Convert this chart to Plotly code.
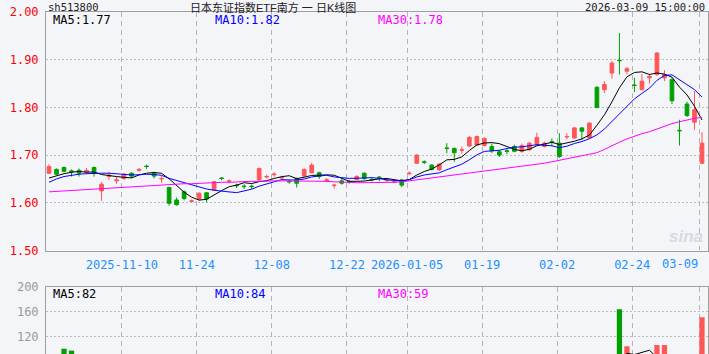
import plotly.graph_objects as go
import pandas as pd

dates = [
    "2025-10-27", "2025-10-28", "2025-10-29", "2025-10-30", "2025-10-31",
    "2025-11-03", "2025-11-04", "2025-11-05", "2025-11-06", "2025-11-07",
    "2025-11-10", "2025-11-11", "2025-11-12", "2025-11-13", "2025-11-14",
    "2025-11-17", "2025-11-18", "2025-11-19", "2025-11-20", "2025-11-21",
    "2025-11-24", "2025-11-25", "2025-11-26", "2025-11-27", "2025-11-28",
    "2025-12-01", "2025-12-02", "2025-12-03", "2025-12-04", "2025-12-05",
    "2025-12-08", "2025-12-09", "2025-12-10", "2025-12-11", "2025-12-12",
    "2025-12-15", "2025-12-16", "2025-12-17", "2025-12-18", "2025-12-19",
    "2025-12-22", "2025-12-23", "2025-12-24", "2025-12-25", "2025-12-26",
    "2025-12-29", "2025-12-30", "2025-12-31",
    "2026-01-05", "2026-01-06", "2026-01-07", "2026-01-08", "2026-01-09",
    "2026-01-12", "2026-01-13", "2026-01-14", "2026-01-15", "2026-01-16",
    "2026-01-19", "2026-01-20", "2026-01-21", "2026-01-22", "2026-01-23",
    "2026-01-26", "2026-01-27", "2026-01-28", "2026-01-29", "2026-01-30",
    "2026-02-02", "2026-02-03", "2026-02-04", "2026-02-05", "2026-02-06",
    "2026-02-09", "2026-02-10", "2026-02-11", "2026-02-12", "2026-02-13",
    "2026-02-24", "2026-02-25", "2026-02-26", "2026-02-27",
    "2026-03-02", "2026-03-03", "2026-03-04", "2026-03-05", "2026-03-06",
    "2026-03-09",
]

opens = [
    1.662, 1.670, 1.674, 1.667, 1.668, 1.664, 1.674, 1.625, 1.655, 1.646,
    1.651, 1.662, 1.668, 1.677, 1.663, 1.650, 1.632, 1.606, 1.623, 1.603,
    1.608, 1.621, 1.627, 1.652, 1.645, 1.637, 1.635, 1.635, 1.648, 1.654,
    1.659, 1.652, 1.645, 1.651, 1.656, 1.663, 1.663, 1.647, 1.636, 1.646,
    1.645, 1.649, 1.662, 1.649, 1.654, 1.647, 1.643, 1.648,
    1.661, 1.683, 1.686, 1.679, 1.669, 1.715, 1.714, 1.710, 1.719, 1.721,
    1.720, 1.718, 1.707, 1.709, 1.718, 1.708, 1.711, 1.722, 1.718, 1.728,
    1.725, 1.738, 1.736, 1.757, 1.736, 1.842, 1.837, 1.872, 1.899, 1.876,
    1.847, 1.837, 1.862, 1.869, 1.862, 1.858, 1.752, 1.807, 1.769, 1.683,
]
highs = [
    1.681, 1.672, 1.676, 1.670, 1.672, 1.673, 1.676, 1.643, 1.665, 1.655,
    1.662, 1.664, 1.673, 1.680, 1.665, 1.656, 1.634, 1.611, 1.626, 1.607,
    1.622, 1.622, 1.646, 1.654, 1.649, 1.640, 1.639, 1.638, 1.674, 1.659,
    1.664, 1.657, 1.648, 1.653, 1.672, 1.684, 1.665, 1.652, 1.640, 1.650,
    1.648, 1.658, 1.664, 1.652, 1.656, 1.651, 1.647, 1.650,
    1.666, 1.702, 1.689, 1.681, 1.683, 1.725, 1.716, 1.718, 1.740, 1.741,
    1.737, 1.724, 1.711, 1.713, 1.722, 1.724, 1.727, 1.747, 1.728, 1.735,
    1.746, 1.746, 1.759, 1.759, 1.769, 1.845, 1.855, 1.897, 1.956, 1.885,
    1.862, 1.870, 1.870, 1.916, 1.878, 1.862, 1.774, 1.812, 1.834, 1.748,
]
lows = [
    1.660, 1.658, 1.664, 1.655, 1.655, 1.660, 1.655, 1.604, 1.648, 1.640,
    1.648, 1.652, 1.665, 1.671, 1.651, 1.642, 1.594, 1.594, 1.605, 1.601,
    1.605, 1.601, 1.625, 1.647, 1.641, 1.631, 1.629, 1.629, 1.647, 1.651,
    1.655, 1.648, 1.640, 1.632, 1.655, 1.662, 1.650, 1.643, 1.630, 1.638,
    1.640, 1.647, 1.648, 1.645, 1.645, 1.644, 1.641, 1.633,
    1.658, 1.681, 1.681, 1.668, 1.667, 1.704, 1.686, 1.703, 1.717, 1.719,
    1.718, 1.704, 1.696, 1.702, 1.706, 1.705, 1.709, 1.720, 1.716, 1.719,
    1.694, 1.733, 1.734, 1.732, 1.734, 1.798, 1.830, 1.860, 1.869, 1.869,
    1.832, 1.836, 1.850, 1.866, 1.855, 1.807, 1.720, 1.780, 1.753, 1.681,
]
closes = [
    1.676, 1.660, 1.666, 1.665, 1.662, 1.668, 1.662, 1.639, 1.658, 1.648,
    1.660, 1.656, 1.670, 1.676, 1.656, 1.651, 1.599, 1.596, 1.609, 1.604,
    1.620, 1.608, 1.644, 1.651, 1.646, 1.636, 1.634, 1.634, 1.672, 1.655,
    1.660, 1.653, 1.644, 1.641, 1.670, 1.679, 1.655, 1.648, 1.637, 1.641,
    1.644, 1.655, 1.651, 1.648, 1.653, 1.648, 1.644, 1.637,
    1.662, 1.700, 1.685, 1.670, 1.681, 1.714, 1.705, 1.711, 1.737, 1.739,
    1.735, 1.709, 1.700, 1.708, 1.708, 1.720, 1.725, 1.737, 1.725, 1.727,
    1.697, 1.739, 1.757, 1.750, 1.767, 1.800, 1.848, 1.893, 1.898, 1.881,
    1.846, 1.855, 1.865, 1.914, 1.869, 1.814, 1.751, 1.783, 1.795, 1.725,
]
volumes = [
    65, 78, 100, 97, 70, 55, 60, 85, 50, 45,
    48, 40, 42, 45, 50, 38, 88, 70, 62, 45,
    52, 55, 58, 40, 35, 38, 36, 34, 60, 40,
    35, 33, 36, 42, 48, 55, 45, 38, 40, 35,
    32, 30, 36, 28, 30, 32, 30, 38,
    40, 70, 45, 42, 38, 62, 55, 40, 50, 45,
    38, 38, 35, 30, 28, 30, 28, 35, 25, 30,
    55, 30, 38, 27, 40, 85, 50, 60, 164, 104,
    75, 70, 75, 106, 106, 80, 65, 55, 60, 151,
]
ma5_head = [1.652, 1.657, 1.661, 1.664]
ma10_head = [1.643, 1.650, 1.655, 1.658, 1.660, 1.661, 1.662, 1.662, 1.662]
ma30 = [
    1.623, 1.624, 1.625, 1.626, 1.627, 1.628, 1.629, 1.630, 1.631, 1.632,
    1.633, 1.634, 1.635, 1.636, 1.637, 1.638, 1.639, 1.639, 1.640, 1.640,
    1.641, 1.642, 1.642, 1.643, 1.643, 1.644, 1.644, 1.645, 1.645, 1.646,
    1.646, 1.646, 1.646, 1.646, 1.646, 1.645, 1.645, 1.645, 1.644, 1.644,
    1.643, 1.642, 1.642, 1.642, 1.642, 1.642, 1.643, 1.644,
    1.646, 1.648, 1.650, 1.652, 1.654, 1.656, 1.658, 1.660, 1.662, 1.664,
    1.666, 1.668, 1.670, 1.672, 1.674, 1.676, 1.678, 1.680, 1.683, 1.686,
    1.689, 1.692, 1.695, 1.698, 1.701, 1.705, 1.712, 1.720, 1.727, 1.734,
    1.740, 1.745, 1.749, 1.755, 1.761, 1.766, 1.770, 1.774, 1.777, 1.779,
]

tick_dates = ["2025-11-10", "2025-11-24", "2025-12-08", "2025-12-22", "2026-01-05",
              "2026-01-19", "2026-02-02", "2026-02-24", "2026-03-09"]
tick_labels = ["2025-11-10", "11-24", "12-08", "12-22", "2026-01-05",
               "01-19", "02-02", "02-24", "03-09"]
price_ticks = [1.50, 1.60, 1.70, 1.80, 1.90, 2.00]
vol_ticks = [120, 160, 200]
price_ma_labels = ["MA5:1.77", "MA10:1.82", "MA30:1.78"]
vol_ma_labels = ["MA5:82", "MA10:84", "MA30:59"]
code_text = "sh513800"
title_text = "日本东证指数ETF南方 一 日K线图"
time_text = "2026-03-09 15:00:00"

RED = "#ff5656"
GREEN = "#00a000"
MA_COLORS = ["#000000", "#0000ff", "#ff00ff"]
BG = "#f4f5f9"
MONO = "DejaVu Sans Mono"

W, H = 709, 354
L, R = 46, 1
PW = W - L - R

n = len(dates)
xs = list(range(n))
cs = pd.Series(closes)
ma5 = cs.rolling(5).mean().tolist()
ma5[:len(ma5_head)] = ma5_head
ma10 = cs.rolling(10).mean().tolist()
ma10[:len(ma10_head)] = ma10_head
vs = pd.Series(volumes, dtype=float)
vma5 = vs.rolling(5).mean().tolist()
vma10 = vs.rolling(10).mean().tolist()
vma30 = vs.rolling(30).mean().tolist()

fig = go.Figure()
fig.add_trace(go.Candlestick(
    x=xs, open=opens, high=highs, low=lows, close=closes,
    increasing=dict(line=dict(color=RED, width=1), fillcolor=RED),
    decreasing=dict(line=dict(color=GREEN, width=1), fillcolor=GREEN),
    whiskerwidth=0, xaxis="x", yaxis="y", showlegend=False, hoverinfo="skip",
))
for vals, col in zip([ma5, ma10, ma30], MA_COLORS):
    fig.add_trace(go.Scatter(x=xs, y=vals, mode="lines", line=dict(color=col, width=1),
                             xaxis="x", yaxis="y", showlegend=False, hoverinfo="skip"))

bar_colors = [RED if c >= o else GREEN for o, c in zip(opens, closes)]
fig.add_trace(go.Bar(x=xs, y=volumes, marker=dict(color=bar_colors, line=dict(width=0)),
                     width=0.7, xaxis="x2", yaxis="y2", showlegend=False, hoverinfo="skip"))
for vals, col in zip([vma5, vma10, vma30], MA_COLORS):
    fig.add_trace(go.Scatter(x=xs, y=vals, mode="lines", line=dict(color=col, width=1),
                             xaxis="x2", yaxis="y2", showlegend=False, hoverinfo="skip"))

tickvals = [dates.index(d) - 0.3 for d in tick_dates]
ticktext = tick_labels[:-1] + [""]

x_common = dict(range=[-0.4, n - 0.2], showgrid=True, gridcolor="#b4b4b4", griddash="5px,4px",
                gridwidth=1, zeroline=False, showline=True, linecolor="#a0a0a0", linewidth=1,
                mirror=True, tickvals=tickvals, ticks="", fixedrange=True, automargin=False)

main_top = 1 - 12 / H
main_bot = 1 - 250.5 / H
vol_top = 1 - 287 / H

fig.update_layout(
    width=W, height=H,
    margin=dict(l=L, r=R, t=0, b=0, pad=0, autoexpand=False),
    paper_bgcolor=BG, plot_bgcolor=BG,
    showlegend=False,
    bargap=0.3,
    xaxis=dict(**x_common, ticktext=ticktext, showticklabels=True,
               tickfont=dict(family=MONO, size=12, color="#1e90ff"),
               rangeslider=dict(visible=False), anchor="y", ticklabelstandoff=3),
    xaxis2=dict(**x_common, ticktext=ticktext, showticklabels=False, anchor="y2", matches="x"),
    yaxis=dict(domain=[main_bot, main_top], range=[1.50, 2.00], tickvals=price_ticks,
               tickformat=".2f", tickfont=dict(family=MONO, size=12, color="#ff0000"),
               showgrid=True, gridcolor="#bdbdbd", griddash="2px,2px", zeroline=False,
               showline=True, linecolor="#a0a0a0", linewidth=1, mirror=True, ticks="",
               ticklabelstandoff=4, fixedrange=True, automargin=False),
    yaxis2=dict(domain=[0, vol_top], range=[91.5, 200], tickvals=vol_ticks,
                tickfont=dict(family=MONO, size=12, color="#9a9a9a"),
                showgrid=True, gridcolor="#bdbdbd", griddash="2px,2px", zeroline=False,
                showline=True, linecolor="#a0a0a0", linewidth=1, mirror=True, ticks="",
                ticklabelstandoff=4, fixedrange=True, automargin=False),
)

ann = []
label_px = [52, 214, 377]
for txt, col, px in zip(price_ma_labels, MA_COLORS, label_px):
    ann.append(dict(text=txt, x=(px - L) / PW, y=1 - 20 / H, xref="paper", yref="paper",
                    xanchor="left", yanchor="middle", showarrow=False, borderpad=0,
                    font=dict(family=MONO, size=12, color=col)))
for txt, col, px in zip(vol_ma_labels, MA_COLORS, label_px):
    ann.append(dict(text=txt, x=(px - L) / PW, y=1 - 293.5 / H, xref="paper", yref="paper",
                    xanchor="left", yanchor="middle", showarrow=False, borderpad=0,
                    font=dict(family=MONO, size=12, color=col)))
# last date label, right-aligned to its grid line
ann.append(dict(text=tick_labels[-1], x=tickvals[-1], xref="x", y=main_bot, yref="paper",
                xanchor="right", yanchor="top", yshift=-4, showarrow=False,
                font=dict(family=MONO, size=12, color="#1e90ff")))
# header texts along the top edge
ann.append(dict(text=code_text, x=(47 - L) / PW, y=1, xref="paper", yref="paper",
                xanchor="left", yanchor="top", showarrow=False, borderpad=0,
                font=dict(family=MONO, size=10.5, color="#222222")))
ann.append(dict(text=title_text, x=(273 - L) / PW, y=1, xref="paper", yref="paper",
                xanchor="center", yanchor="top", showarrow=False, borderpad=0,
                font=dict(family="Liberation Sans, Noto Sans CJK SC", size=11, color="#222222")))
ann.append(dict(text=time_text, x=(706 - L) / PW, y=1, xref="paper", yref="paper",
                xanchor="right", yanchor="top", showarrow=False, borderpad=0,
                font=dict(family=MONO, size=10.5, color="#222222")))
# watermark
ann.append(dict(text="<i><b>sina</b></i>", x=(686 - L) / PW, y=1 - 236 / H, xref="paper", yref="paper",
                xanchor="center", yanchor="middle", showarrow=False,
                font=dict(family="Liberation Sans", size=17, color="#d9d9de")))
fig.update_layout(annotations=ann)

fig.write_html("out.html")
